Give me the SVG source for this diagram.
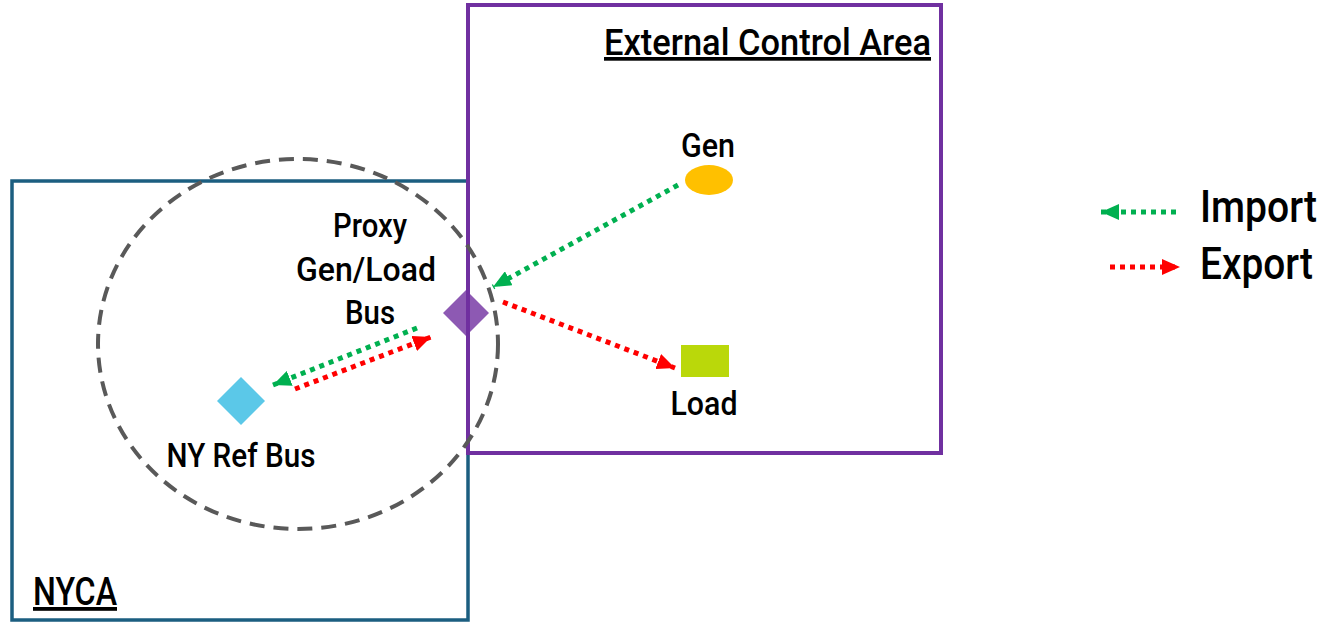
<svg xmlns="http://www.w3.org/2000/svg" width="1332" height="622" viewBox="0 0 1332 622">
  <style>
    .lbl { font-family: Roboto, "Liberation Sans", sans-serif; font-weight: 500; fill: #000; }
    .imp { stroke: #00B050; stroke-width: 5; stroke-dasharray: 5 5; fill: none; }
    .exp { stroke: #FF0000; stroke-width: 5; stroke-dasharray: 5 5; fill: none; }
  </style>
  <defs>
    <marker id="headGreen" markerUnits="userSpaceOnUse" markerWidth="20" markerHeight="16" refX="18" refY="8" orient="auto">
      <path d="M0,0 L18,8 L0,16 Z" fill="#00B050"/>
    </marker>
    <marker id="headRed" markerUnits="userSpaceOnUse" markerWidth="20" markerHeight="16" refX="18" refY="8" orient="auto">
      <path d="M0,0 L18,8 L0,16 Z" fill="#FF0000"/>
    </marker>
  </defs>
  <rect width="1332" height="622" fill="#fff"/>

  <!-- control areas -->
  <g id="nyca">
    <rect x="12" y="181" width="456" height="439" fill="none" stroke="#1B5E80" stroke-width="3.5"/>
    <text class="lbl" x="33" y="605" font-size="38" textLength="84" lengthAdjust="spacingAndGlyphs" text-decoration="underline">NYCA</text>
  </g>
  <g id="external-area">
    <rect x="468" y="5" width="473" height="448" fill="none" stroke="#7030A0" stroke-width="4"/>
    <text class="lbl" x="604" y="55" font-size="37" textLength="327" lengthAdjust="spacingAndGlyphs" text-decoration="underline">External Control Area</text>
  </g>

  <!-- proxy region boundary -->
  <g id="proxy-region">
    <ellipse cx="298" cy="344" rx="200" ry="185" fill="none" stroke="#595959" stroke-width="4" stroke-dasharray="15 9"/>
  </g>

  <!-- buses and resources -->
  <g id="proxy-bus">
    <polygon points="466,290 489,313 466,336 443,313" fill="#7030A0" fill-opacity="0.8"/>
    <text class="lbl" x="370" y="237" font-size="34" text-anchor="middle" textLength="74" lengthAdjust="spacingAndGlyphs">Proxy</text>
    <text class="lbl" x="366" y="281" font-size="34" text-anchor="middle" textLength="140" lengthAdjust="spacingAndGlyphs">Gen/Load</text>
    <text class="lbl" x="370" y="324" font-size="34" text-anchor="middle" textLength="50" lengthAdjust="spacingAndGlyphs">Bus</text>
  </g>
  <g id="ny-ref-bus">
    <polygon points="241,377 265,401 241,425 217,401" fill="#5BC8E8"/>
    <text class="lbl" x="241" y="467" font-size="34" text-anchor="middle" textLength="149" lengthAdjust="spacingAndGlyphs">NY Ref Bus</text>
  </g>
  <g id="gen">
    <ellipse cx="709" cy="180" rx="24" ry="15" fill="#FFC000"/>
    <text class="lbl" x="708" y="157" font-size="34" text-anchor="middle" textLength="54" lengthAdjust="spacingAndGlyphs">Gen</text>
  </g>
  <g id="load">
    <rect x="681" y="345" width="48" height="32" fill="#BAD80A"/>
    <text class="lbl" x="704" y="415" font-size="34" text-anchor="middle" textLength="67" lengthAdjust="spacingAndGlyphs">Load</text>
  </g>

  <!-- flows -->
  <g id="connectors">
    <line class="imp" x1="678" y1="185" x2="493" y2="287" marker-end="url(#headGreen)"/>
    <line class="exp" x1="503" y1="302" x2="675" y2="368" marker-end="url(#headRed)"/>
    <line class="imp" x1="417" y1="328" x2="273" y2="385" marker-end="url(#headGreen)"/>
    <line class="exp" x1="295" y1="389" x2="431" y2="337" marker-end="url(#headRed)"/>
  </g>

  <!-- legend -->
  <g id="legend">
    <line class="imp" x1="1176" y1="212" x2="1101" y2="212" marker-end="url(#headGreen)"/>
    <text class="lbl" x="1200" y="222" font-size="44" textLength="117" lengthAdjust="spacingAndGlyphs">Import</text>
    <line class="exp" x1="1110" y1="267" x2="1180" y2="267" marker-end="url(#headRed)"/>
    <text class="lbl" x="1200" y="279" font-size="44" textLength="113" lengthAdjust="spacingAndGlyphs">Export</text>
  </g>
</svg>
